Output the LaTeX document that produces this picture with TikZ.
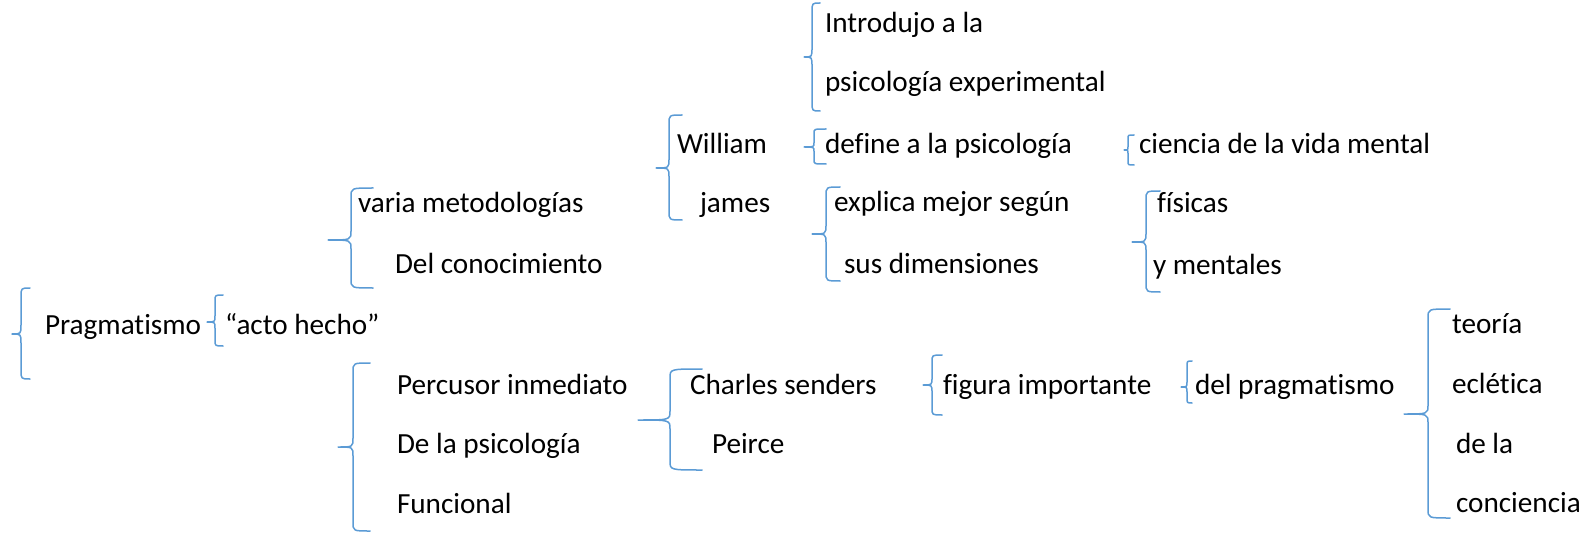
\documentclass[tikz,border=0pt]{standalone}
\usepackage{fontspec}
\setmainfont{Carlito}[Ligatures={NoCommon}]
\definecolor{braceblue}{RGB}{91,155,213}
\tikzset{
  lbl/.style={anchor=base west, inner sep=0pt, outer sep=0pt, text=black, font=\fontsize{29.2}{35}\selectfont},
  bracestyle/.style={draw=braceblue, line width=1.5pt, line cap=round, line join=round}
}
% #1 tip x, #2 tip y, #3 spine x, #4 top y, #5 bottom y, #6 arm end x
\newcommand\mybrace[6]{%
  \pgfmathsetmacro\rr{min(9,0.12*(#5-#4))}%
  \draw[bracestyle] (#6,#4) .. controls (#3,#4) .. (#3,#4+\rr)
    -- (#3,#2-\rr) .. controls (#3,#2) .. (#1,#2)
    .. controls (#3,#2) .. (#3,#2+\rr)
    -- (#3,#5-\rr) .. controls (#3,#5) .. (#6,#5);}
\begin{document}
\begin{tikzpicture}[x=1pt,y=-1pt]
\useasboundingbox (0,0) rectangle (1585,540);
% braces
\mybrace{12}{334}{21}{288}{379}{30}
\mybrace{207}{322}{215}{295}{346}{223}
\mybrace{328}{240}{351}{188}{288}{373}
\mybrace{338}{447}{353}{363}{531}{370}
\mybrace{638}{420}{670}{369}{470}{702}
\mybrace{656}{168}{669}{115}{220}{682}
\mybrace{804}{57}{812}{3}{111}{820}
\mybrace{804}{147}{814}{129}{164}{826}
\mybrace{812}{234}{826}{187}{281}{840}
\mybrace{1124}{150}{1128}{135}{165}{1134}
\mybrace{1132}{242}{1146}{191}{292}{1160}
\mybrace{923}{385}{932}{355}{415}{942}
\mybrace{1181}{387}{1187}{361}{403}{1192}
\mybrace{1404}{414}{1428}{309}{518}{1450}
% texts
\node[lbl] (prag) at (45,334) {Pragmatismo};
\node[lbl] (acto) at (225,334) {“acto hecho”};
\node[lbl] (varia) at (358,213) {varia metodologías};
\node[lbl] (delc) at (395,273) {Del conocimiento};
\node[lbl] (perc) at (397,394) {Percusor inmediato};
\node[lbl] (dela) at (397,453) {De la psicología};
\node[lbl] (func) at (397,513) {Funcional};
\node[lbl] (charles) at (690,394) {Charles senders};
\node[lbl] (peirce) at (712,453) {Peirce};
\node[lbl] (william) at (677,154) {William};
\node[lbl] (james) at (700,213) {james};
\node[lbl] (intro) at (825,33) {Introdujo a la};
\node[lbl] (psiexp) at (825,92) {psicología experimental};
\node[lbl] (define) at (825,154) {define a la psicología};
\node[lbl] (explica) at (834,212) {explica mejor según};
\node[lbl] (susdim) at (844,273) {sus dimensiones};
\node[lbl] (ciencia) at (1139,154) {ciencia de la vida mental};
\node[lbl] (fisicas) at (1157,213) {físicas};
\node[lbl] (ymen) at (1153,274) {y mentales};
\node[lbl] (figura) at (943,394) {figura importante};
\node[lbl] (delprag) at (1195,394) {del pragmatismo};
\node[lbl] (teoria) at (1452,333) {teoría};
\node[lbl] (eclet) at (1452,393) {eclética};
\node[lbl] (dela2) at (1456,453) {de la};
\node[lbl] (conc) at (1456,512) {conciencia};
\end{tikzpicture}
\end{document}
